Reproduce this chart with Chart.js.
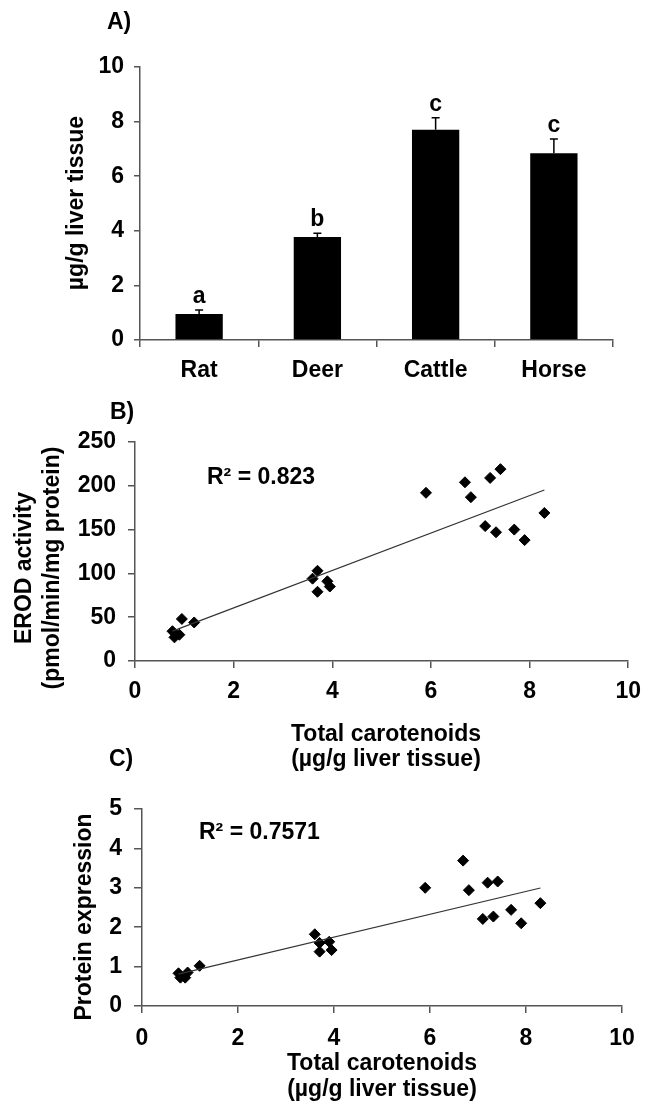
<!DOCTYPE html>
<html><head><meta charset="utf-8">
<script src="https://cdn.jsdelivr.net/npm/chart.js@4.4.0/dist/chart.umd.min.js"></script>
<style>
html,body{margin:0;padding:0;background:#fff;width:651px;height:1104px;overflow:hidden;position:relative}
canvas{position:absolute;left:0}
</style></head><body>
<canvas id="cA" width="651" height="390" style="top:0px"></canvas>
<canvas id="cB" width="651" height="390" style="top:390px"></canvas>
<canvas id="cC" width="651" height="364" style="top:740px"></canvas>
<script>
// ---- data ----
const species = ['Rat', 'Deer', 'Cattle', 'Horse'];
const carotenoidMean = [0.95, 3.77, 7.70, 6.84];
const carotenoidErr = [0.15, 0.14, 0.44, 0.52];
const sigLetters = ['a', 'b', 'c', 'c'];

// total carotenoids per liver sample (µg/g liver tissue)
const carotenoidsX = [0.76, 0.80, 0.90, 0.95, 1.20,
                      3.60, 3.70, 3.70, 3.90, 3.95,
                      5.90, 6.69, 6.81, 7.20, 7.41, 7.10, 7.32, 7.69, 7.90, 8.30];
// EROD activity (pmol/min/mg protein)
const erodY = [34, 27, 30, 48, 44,
               94, 103, 79, 91, 85,
               192, 204, 187, 209, 219, 154, 147, 150, 138, 169];
// protein expression
const proteinY = [0.83, 0.72, 0.72, 0.85, 1.02,
                  1.82, 1.60, 1.38, 1.63, 1.42,
                  3.00, 3.69, 2.94, 3.13, 3.16, 2.21, 2.27, 2.44, 2.10, 2.61];

const r2B = 'R\u00B2 = 0.823';
const r2C = 'R\u00B2 = 0.7571';

// ---- helpers ----
const FAM = '"Liberation Sans", Arial, Helvetica, sans-serif';
const F23 = 'bold 23px ' + FAM;
Chart.defaults.font.family = FAM;
Chart.defaults.font.weight = 'bold';
Chart.defaults.font.size = 23;
Chart.defaults.color = '#000';

function trend(xs, ys) {
  const n = xs.length;
  const mx = xs.reduce((a, b) => a + b, 0) / n;
  const my = ys.reduce((a, b) => a + b, 0) / n;
  let sxy = 0, sxx = 0;
  for (let i = 0; i < n; i++) { sxy += (xs[i] - mx) * (ys[i] - my); sxx += (xs[i] - mx) ** 2; }
  const m = sxy / sxx, b = my - m * mx;
  const x0 = Math.min(...xs), x1 = Math.max(...xs);
  return [{x: x0, y: m * x0 + b}, {x: x1, y: m * x1 + b}];
}
const pts = (xs, ys) => xs.map((x, i) => ({x, y: ys[i]}));

const textPlugin = {
  id: 'panelText',
  afterDraw(chart, args, opts) {
    const ctx = chart.ctx;
    (opts.items || []).forEach(it => {
      ctx.save();
      ctx.font = it.font || F23;
      ctx.fillStyle = '#000';
      ctx.textAlign = it.align || 'center';
      ctx.textBaseline = 'middle';
      ctx.translate(it.x, it.y);
      if (it.rot) ctx.rotate(it.rot);
      ctx.fillText(it.text, 0, 0);
      ctx.restore();
    });
  }
};

const errorPlugin = {
  id: 'errBars',
  afterDatasetsDraw(chart) {
    const ctx = chart.ctx, ys = chart.scales.y;
    const meta = chart.getDatasetMeta(0);
    meta.data.forEach((bar, i) => {
      const top = ys.getPixelForValue(carotenoidMean[i] + carotenoidErr[i]);
      ctx.save();
      ctx.strokeStyle = '#000';
      ctx.lineWidth = 1.5;
      ctx.beginPath();
      ctx.moveTo(bar.x, bar.y);
      ctx.lineTo(bar.x, top);
      ctx.moveTo(bar.x - 4, top);
      ctx.lineTo(bar.x + 4, top);
      ctx.stroke();
      ctx.font = F23;
      ctx.fillStyle = '#000';
      ctx.textAlign = 'center';
      ctx.textBaseline = 'alphabetic';
      ctx.fillText(sigLetters[i], bar.x, top - 7);
      ctx.restore();
    });
  }
};

const AX = '#555';
function linAxis(min, max, step, tickLen, pad, fit) {
  return {
    type: 'linear', min, max,
    ticks: {stepSize: step, padding: pad, color: '#000', font: {size: 23, weight: 'bold'}},
    grid: {drawOnChartArea: false, drawTicks: true, tickLength: tickLen, color: AX, lineWidth: 1.5},
    border: {color: AX, width: 1.5},
    afterFit: fit
  };
}
const common = {
  responsive: false, animation: false,
  plugins: {legend: {display: false}, tooltip: {enabled: false}, title: {display: false}}
};

// ---- Panel A ----
new Chart(document.getElementById('cA'), {
  type: 'bar',
  data: {labels: species, datasets: [{data: carotenoidMean, backgroundColor: '#000', borderWidth: 0,
    barPercentage: 0.4, categoryPercentage: 1.0}]},
  options: Object.assign({}, common, {
    layout: {padding: {top: 67, right: 38, left: 0, bottom: 0}},
    scales: {
      x: {
        ticks: {padding: 10, color: '#000', font: {size: 23, weight: 'bold'}},
        grid: {offset: true, drawOnChartArea: false, drawTicks: true, tickLength: 7, color: AX, lineWidth: 1.5},
        border: {color: AX, width: 1.5},
        afterFit: s => { s.height = 50; }
      },
      y: linAxis(0, 10, 2, 6, 10, s => { s.width = 140; })
    },
    plugins: Object.assign({}, common.plugins, {
      panelText: {items: [
        {text: 'A)', x: 107, y: 23, align: 'left'},
        {text: '\u00B5g/g liver tissue', x: 77, y: 203, rot: -Math.PI / 2}
      ]}
    })
  }),
  plugins: [errorPlugin, textPlugin]
});

// ---- Panel B ----
new Chart(document.getElementById('cB'), {
  type: 'scatter',
  data: {datasets: [
    {type: 'line', data: trend(carotenoidsX, erodY), borderColor: '#333', borderWidth: 1.2,
     pointRadius: 0, fill: false, tension: 0},
    {data: pts(carotenoidsX, erodY), pointStyle: 'rectRot', pointRadius: 5.5,
     backgroundColor: '#000', borderColor: '#000', borderWidth: 1}
  ]},
  options: Object.assign({}, common, {
    layout: {padding: {top: 52, right: 16, left: 0, bottom: 0}},
    scales: {
      x: linAxis(0, 10, 2, 7, 10, s => { s.height = 119; }),
      y: linAxis(0, 250, 50, 7, 12, s => { s.width = 135; })
    },
    plugins: Object.assign({}, common.plugins, {
      panelText: {items: [
        {text: 'B)', x: 110, y: 23, align: 'left'},
        {text: 'EROD activity', x: 25, y: 178, rot: -Math.PI / 2},
        {text: '(pmol/min/mg protein)', x: 53, y: 178, rot: -Math.PI / 2},
        {text: r2B, x: 207, y: 88, align: 'left'},
        {text: 'Total carotenoids', x: 386, y: 345},
        {text: '(\u00B5g/g liver tissue)', x: 386, y: 370}
      ]}
    })
  }),
  plugins: [textPlugin]
});

// ---- Panel C ----
new Chart(document.getElementById('cC'), {
  type: 'scatter',
  data: {datasets: [
    {type: 'line', data: trend(carotenoidsX, proteinY), borderColor: '#333', borderWidth: 1.2,
     pointRadius: 0, fill: false, tension: 0},
    {data: pts(carotenoidsX, proteinY), pointStyle: 'rectRot', pointRadius: 5.5,
     backgroundColor: '#000', borderColor: '#000', borderWidth: 1}
  ]},
  options: Object.assign({}, common, {
    layout: {padding: {top: 69, right: 29, left: 0, bottom: 0}},
    scales: {
      x: linAxis(0, 10, 2, 7, 12, s => { s.height = 98; }),
      y: linAxis(0, 5, 1, 8, 12, s => { s.width = 142; })
    },
    plugins: Object.assign({}, common.plugins, {
      panelText: {items: [
        {text: 'C)', x: 109, y: 20, align: 'left'},
        {text: 'Protein expression', x: 85, y: 177, rot: -Math.PI / 2},
        {text: r2C, x: 199, y: 93, align: 'left'},
        {text: 'Total carotenoids', x: 382, y: 324},
        {text: '(\u00B5g/g liver tissue)', x: 382, y: 350}
      ]}
    })
  }),
  plugins: [textPlugin]
});
</script>
</body></html>
